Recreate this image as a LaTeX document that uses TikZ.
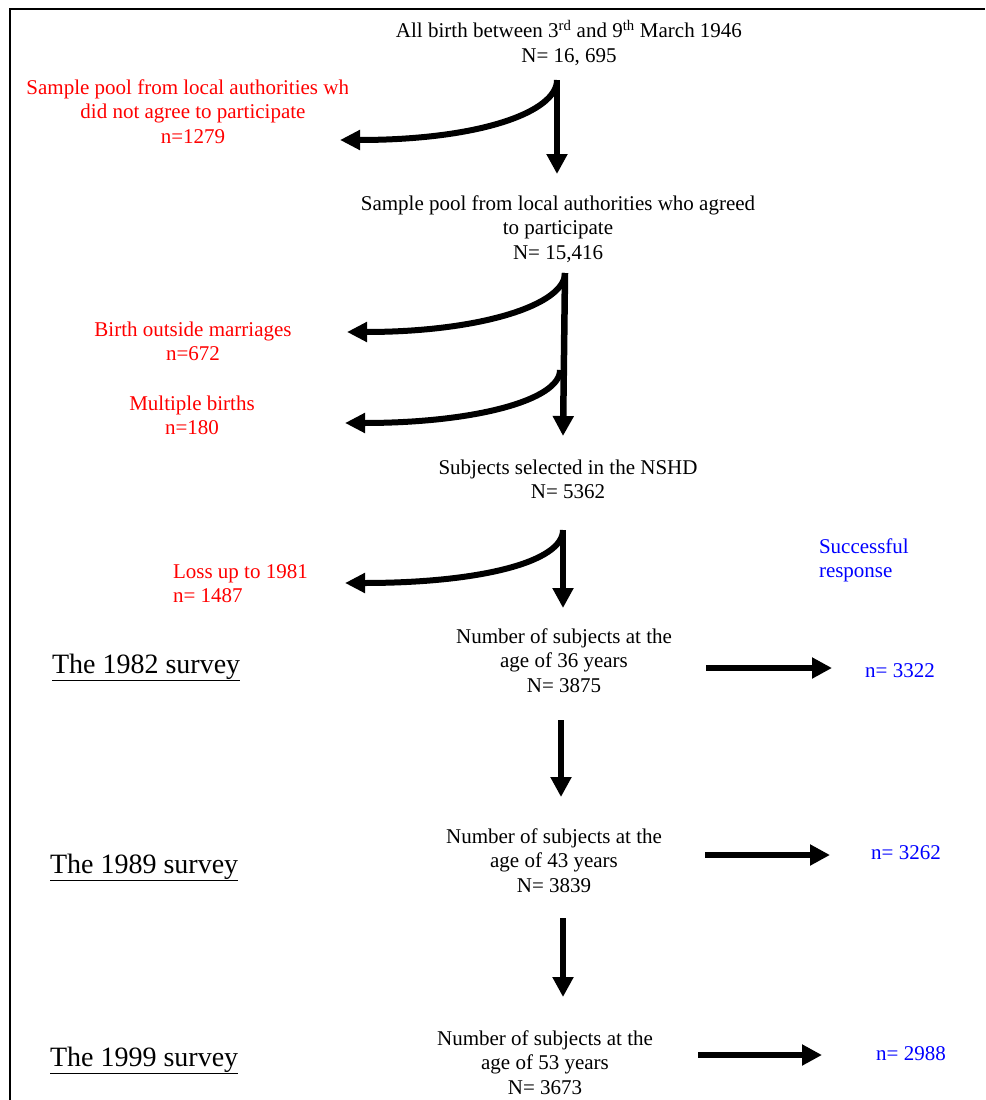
\documentclass[tikz,border=0pt]{standalone}
\usepackage{fontspec}
\setmainfont{Liberation Serif}
\usetikzlibrary{arrows.meta}
\begin{document}
\begin{tikzpicture}[x=1pt,y=-1pt,
  txt/.style={inner sep=0pt, outer sep=0pt, align=center, font=\fontsize{21}{24.5}\selectfont, anchor=north},
  redtxt/.style={txt, text=red},
  bluetxt/.style={txt, text=blue},
  lefttxt/.style={align=left, anchor=north west},
  single/.style={inner sep=0pt, outer sep=0pt, font=\fontsize{21}{24.5}\selectfont, anchor=base, text=blue},
  survey/.style={inner sep=0pt, outer sep=0pt, font=\fontsize{28}{32}\selectfont, anchor=base west},
  flow/.style={line width=6.5pt, -{Triangle[length=20pt,width=20pt]}},
  bendarrow/.style={line width=6pt, -{Triangle[length=20pt,width=19pt]}},
]
\useasboundingbox (0,0) rectangle (985,1100);
\draw[line width=2pt] (10,1100) -- (10,9) -- (985,9);

% main column
\node[txt] (top) at (569,19.85) {\strut All birth between 3\textsuperscript{rd} and 9\textsuperscript{th} March 1946\\N= 16, 695};
\node[txt] (agreed) at (558,192.85) {\strut Sample pool from local authorities who agreed\\to participate\\N= 15,416};
\node[txt] (nshd) at (568,456.85) {\strut Subjects selected in the NSHD\\N= 5362};
\node[txt] (s36) at (564,625.85) {\strut Number of subjects at the\\age of 36 years\\N= 3875};
\node[txt] (s43) at (554,825.85) {\strut Number of subjects at the\\age of 43 years\\N= 3839};
\node[txt] (s53) at (545,1027.85) {\strut Number of subjects at the\\age of 53 years\\N= 3673};

% exclusions
\begin{scope}
  \clip (0,0) rectangle (347,200);
  \node[redtxt] (excl1) at (193,76.85) {\strut Sample pool from local authorities who\\did not agree to participate\\n=1279};
\end{scope}
\node[redtxt] (excl2) at (193,318.85) {\strut Birth outside marriages\\n=672};
\node[redtxt] (excl3) at (192,392.85) {\strut Multiple births\\n=180};
\node[redtxt, lefttxt] (loss) at (173,560.85) {\strut Loss up to 1981\\n= 1487};

% responses
\node[bluetxt, lefttxt] (succ) at (819,535.85) {\strut Successful\\response};
\node[single] (r82) at (900,677) {n= 3322};
\node[single] (r89) at (906,859) {n= 3262};
\node[single] (r99) at (911,1060) {n= 2988};

% survey labels
\node[survey] (lab82) at (52,673) {\underline{The 1982 survey}};
\node[survey] (lab89) at (50,873) {\underline{The 1989 survey}};
\node[survey] (lab99) at (50,1066) {\underline{The 1999 survey}};

% arrow coordinates
\coordinate (a0) at (557,80);
\coordinate (a1) at (557,174);
\coordinate (a2) at (340,140);
\coordinate (b0) at (565,273);
\coordinate (b1) at (563,436);
\coordinate (b2) at (347,332);
\coordinate (b3) at (560,370);
\coordinate (b4) at (345,423);
\coordinate (c0) at (563,530);
\coordinate (c1) at (563,608);
\coordinate (c2) at (345,583);
\coordinate (d0) at (561,720);
\coordinate (d1) at (561,797);
\coordinate (e0) at (563,918);
\coordinate (e1) at (563,997);
\coordinate (h1a) at (706,668);
\coordinate (h1b) at (832,668);
\coordinate (h2a) at (705,855);
\coordinate (h2b) at (830,855);
\coordinate (h3a) at (698,1055);
\coordinate (h3b) at (822,1055);

\draw[flow] (a0) -- (a1);
\draw[bendarrow] (a0) .. controls (557,112) and (480,140) .. (a2);
\draw[flow] (b0) -- (b1);
\draw[bendarrow] (b0) .. controls (565,305) and (480,332) .. (b2);
\draw[bendarrow] (b3) .. controls (560,400) and (475,423) .. (b4);
\draw[flow] (c0) -- (c1);
\draw[bendarrow] (c0) .. controls (563,562) and (480,583) .. (c2);
\draw[flow] (d0) -- (d1);
\draw[flow] (e0) -- (e1);
\draw[flow] (h1a) -- (h1b);
\draw[flow] (h2a) -- (h2b);
\draw[flow] (h3a) -- (h3b);
\end{tikzpicture}
\end{document}
